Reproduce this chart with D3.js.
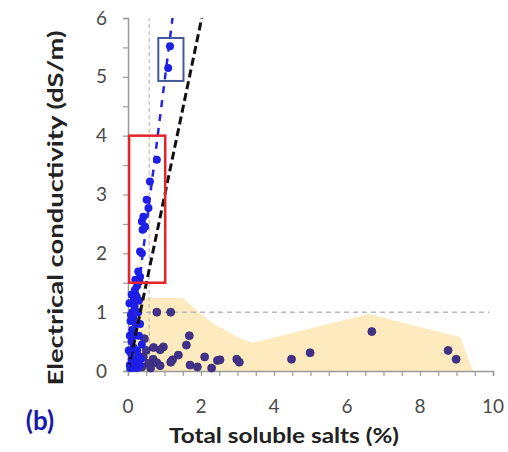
<!DOCTYPE html>
<html><head><meta charset="utf-8">
<script src="https://cdn.jsdelivr.net/npm/d3@7"></script>
<style>body{margin:0;background:#fff}svg{display:block}</style>
</head><body>
<script>
// ---- data ----
const xTicks = [0, 2, 4, 6, 8, 10];
const yTicks = [0, 1, 2, 3, 4, 5, 6];
// points following the blue trend line (high EC)
const trendPoints = [
  [1.15,5.52],[1.10,5.15],[0.79,3.59],[0.60,3.22],[0.51,2.91],[0.56,2.77],
  [0.42,2.62],[0.38,2.54],[0.47,2.45],[0.40,2.40],[0.33,2.03],[0.38,2.00],
  [0.28,1.69],[0.33,1.60],[0.31,1.52],[0.19,1.38],[0.24,1.26]
];
// dense blue cluster near the origin
const clusterPoints = [
  [0.05,0.10],[0.08,0.30],[0.10,0.50],[0.12,0.70],[0.15,0.90],[0.18,1.10],
  [0.20,1.30],[0.25,1.45],[0.10,0.20],[0.20,0.15],[0.25,0.35],[0.30,0.60],
  [0.22,0.80],[0.28,1.00],[0.30,1.20],[0.05,0.60],[0.07,0.85],[0.12,1.00],
  [0.15,0.40],[0.35,0.20],[0.38,0.45],[0.33,0.80],[0.06,0.05],[0.15,0.05],
  [0.25,0.05],[0.02,0.35],[0.04,1.15],[0.10,1.30],[0.18,0.60],[0.32,0.10],
  [0.20,1.55],[0.15,1.20],[0.28,0.25],[0.08,0.95]
];
// scattered low-EC samples
const scatterPoints = [
  [0.79,1.00],[1.17,1.00],[1.68,0.60],[1.60,0.44],[0.97,0.41],[0.88,0.36],
  [1.38,0.27],[1.22,0.19],[1.17,0.15],[0.69,0.20],[0.79,0.14],[0.88,0.09],
  [0.56,0.13],[0.42,0.24],[0.38,0.07],[1.70,0.10],[1.90,0.07],[2.10,0.24],
  [2.29,0.05],[2.45,0.18],[2.52,0.19],[2.98,0.20],[3.05,0.15],[4.48,0.20],
  [4.99,0.31],[6.68,0.67],[8.77,0.35],[8.99,0.20],[0.50,0.35],[0.62,0.05],
  [0.45,0.55],[0.70,0.40]
];
// shaded envelope of the low-EC samples
const envelope = [
  [0,0],[0,1.15],[0.3,1.24],[1.5,1.24],[1.9,1.02],[2.4,0.78],[3.0,0.58],[3.4,0.48],
  [6.6,0.97],[9.1,0.58],[9.45,0],[0,0]
];
const blueLine = [[0.0,0.0],[1.22,6.0]];
const blackLine = [[0.0,0.0],[2.02,6.0]];
const refX = 0.58;      // vertical reference
const refY = 1;         // horizontal reference
const blueBox = {x0:0.83, x1:1.52, y0:4.93, y1:5.66};
const redBox = {x0:0.03, x1:1.02, y0:1.5, y1:4.0};

// ---- drawing ----
const W = 508, H = 452;
const svg = d3.select("body").append("svg").attr("width", W).attr("height", H);
const x = d3.scaleLinear().domain([0,10]).range([128,493]);
const y = d3.scaleLinear().domain([0,6]).range([371,18]);
const font = "Lato, 'Open Sans', sans-serif";

// envelope
svg.append("path").datum(envelope)
  .attr("d", d3.line().x(d=>x(d[0])).y(d=>y(d[1])))
  .attr("fill", "#fdebbf").attr("stroke", "none");

// reference dashed lines
svg.append("line").attr("x1", x(refX)).attr("x2", x(refX)).attr("y1", y(0)).attr("y2", y(6))
  .attr("stroke", "#b0b0b0").attr("stroke-width", 1).attr("stroke-dasharray", "4,3");
svg.append("line").attr("x1", x(0)).attr("x2", x(9.9)).attr("y1", y(refY)).attr("y2", y(refY))
  .attr("stroke", "#b8b8c0").attr("stroke-width", 1.5).attr("stroke-dasharray", "5,4");

// axes
const xAxis = d3.axisBottom(x).tickValues(d3.range(0, 10.01, 0.5)).tickSize(5).tickFormat("");
const yAxis = d3.axisLeft(y).tickValues(d3.range(0, 6.01, 0.5)).tickSize(5).tickFormat("");
const gx = svg.append("g").attr("transform", `translate(0,${y(0)})`).call(xAxis);
const gy = svg.append("g").attr("transform", `translate(${x(0)},0)`).call(yAxis);
[gx, gy].forEach(g => {
  g.select(".domain").attr("stroke", "#9a9a9a").attr("stroke-width", 1.5);
  g.selectAll(".tick line").attr("stroke", "#9a9a9a").attr("stroke-width", 1.2);
});

// tick labels
svg.append("g").selectAll("text").data(xTicks).join("text")
  .attr("x", d => x(d)).attr("y", 413).attr("text-anchor", "middle")
  .attr("font-family", font).attr("font-size", 19).attr("fill", "#4a4a4a")
  .text(d => d);
svg.append("g").selectAll("text").data(yTicks).join("text")
  .attr("x", 107).attr("y", d => y(d)).attr("dy", "0.35em").attr("text-anchor", "end")
  .attr("font-family", font).attr("font-size", 19).attr("fill", "#4a4a4a")
  .text(d => d);

// points
svg.append("g").selectAll("circle").data(scatterPoints).join("circle")
  .attr("cx", d => x(d[0])).attr("cy", d => y(d[1])).attr("r", 4)
  .attr("fill", "#42338a").attr("stroke", "#35286e").attr("stroke-width", 0.8);
svg.append("g").selectAll("circle").data(clusterPoints.concat(trendPoints)).join("circle")
  .attr("cx", d => x(d[0])).attr("cy", d => y(d[1])).attr("r", 4)
  .attr("fill", "#1d1fe8");

// trend lines
const ln = d3.line().x(d=>x(d[0])).y(d=>y(d[1]));
svg.append("path").datum(blackLine).attr("d", ln).attr("fill", "none")
  .attr("stroke", "#111").attr("stroke-width", 3).attr("stroke-dasharray", "8,4");
svg.append("path").datum(blueLine).attr("d", ln).attr("fill", "none")
  .attr("stroke", "#2424e0").attr("stroke-width", 2.5).attr("stroke-dasharray", "7,7");

// boxes
svg.append("rect").attr("x", x(redBox.x0)).attr("y", y(redBox.y1))
  .attr("width", x(redBox.x1) - x(redBox.x0)).attr("height", y(redBox.y0) - y(redBox.y1))
  .attr("fill", "none").attr("stroke", "#e3242b").attr("stroke-width", 2.5);
svg.append("rect").attr("x", x(blueBox.x0)).attr("y", y(blueBox.y1))
  .attr("width", x(blueBox.x1) - x(blueBox.x0)).attr("height", y(blueBox.y0) - y(blueBox.y1))
  .attr("fill", "none").attr("stroke", "#44589a").attr("stroke-width", 2);

// titles
svg.append("text").attr("x", 284).attr("y", 443).attr("text-anchor", "middle")
  .attr("font-family", font).attr("font-weight", "bold").attr("font-size", 21).attr("fill", "#222")
  .attr("textLength", 230).attr("lengthAdjust", "spacingAndGlyphs")
  .text("Total soluble salts  (%)");
svg.append("text").attr("transform", "translate(63,208) rotate(-90)").attr("text-anchor", "middle")
  .attr("font-family", font).attr("font-weight", "bold").attr("font-size", 21).attr("fill", "#222")
  .attr("textLength", 355).attr("lengthAdjust", "spacingAndGlyphs")
  .text("Electrical conductivity  (dS/m)");
svg.append("text").attr("x", 40).attr("y", 430).attr("text-anchor", "middle")
  .attr("font-family", font).attr("font-weight", "bold").attr("font-size", 26).attr("fill", "#1a1aa8")
  .text("(b)");
</script>
</body></html>
